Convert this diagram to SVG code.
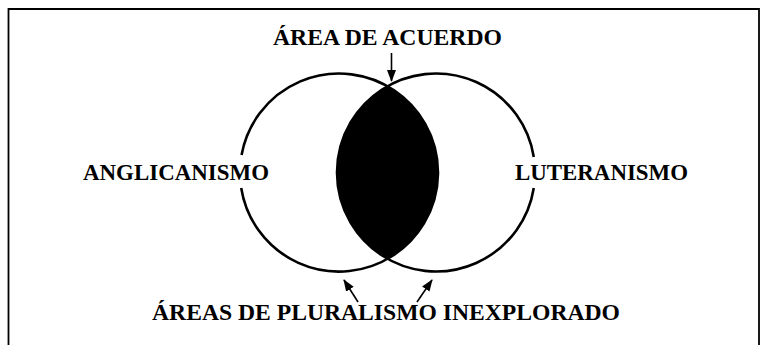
<svg xmlns="http://www.w3.org/2000/svg" width="760" height="345" viewBox="0 0 760 345">
  <defs>
    <marker id="ah" markerWidth="12" markerHeight="12" viewBox="0 0 12 12" refX="11" refY="6" orient="auto" markerUnits="userSpaceOnUse">
      <path d="M0,1.5 L12,6 L0,10.5 Z" fill="#000"/>
    </marker>
  </defs>
  <style>
    .lbl { font-family: "Liberation Serif", "Times New Roman", serif; font-weight: bold; font-size: 23.5px; fill: #000; }
    .ring { fill: none; stroke: #000; stroke-width: 2.6; }
    .arrow { stroke: #000; stroke-width: 1.6; fill: none; marker-end: url(#ah); }
  </style>
  <rect x="0" y="0" width="760" height="345" fill="#fff"/>
  <path d="M8.5,345 L8.5,9 L759,9 L759,345" fill="none" stroke="#000" stroke-width="1.8"/>

  <g id="lens">
    <path d="M387.5,86.2 A99,99 0 0 1 387.5,258.8 A99,99 0 0 1 387.5,86.2 Z" fill="#000"/>
  </g>
  <g id="anglicanismo">
    <path class="ring" d="M241.56,155 A99,99 0 1 1 241.2,188"/>
    <text class="lbl" x="83" y="180" textLength="186" lengthAdjust="spacingAndGlyphs">ANGLICANISMO</text>
  </g>
  <g id="luteranismo">
    <path class="ring" d="M533.78,188 A99,99 0 1 1 533.78,157"/>
    <text class="lbl" x="515" y="180" textLength="173" lengthAdjust="spacingAndGlyphs">LUTERANISMO</text>
  </g>
  <g id="area-acuerdo">
    <text class="lbl" x="273" y="45" textLength="229" lengthAdjust="spacingAndGlyphs">ÁREA DE ACUERDO</text>
  </g>
  <g id="areas-pluralismo">
    <text class="lbl" x="152" y="320" textLength="468" lengthAdjust="spacingAndGlyphs">ÁREAS DE PLURALISMO INEXPLORADO</text>
  </g>
  <g id="connectors">
    <line class="arrow" x1="391.5" y1="53" x2="391.5" y2="81"/>
    <line class="arrow" x1="358" y1="302" x2="344" y2="280"/>
    <line class="arrow" x1="417" y1="302" x2="432" y2="280"/>
  </g>
</svg>
